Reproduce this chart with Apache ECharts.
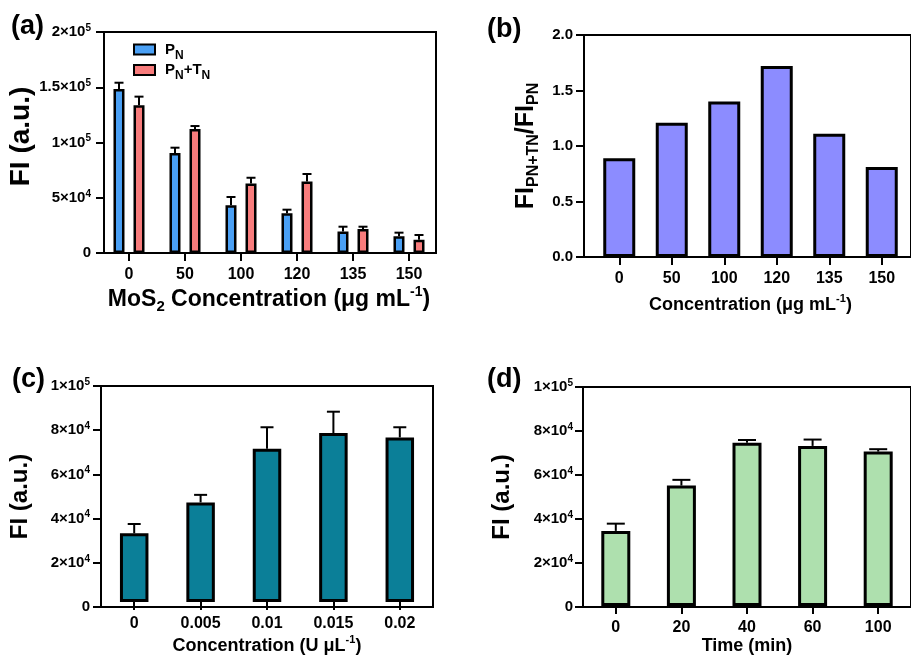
<!DOCTYPE html>
<html>
<head>
<meta charset="utf-8">
<script src="https://cdn.jsdelivr.net/npm/echarts@6/dist/echarts.min.js"></script>
<style>html,body{margin:0;padding:0;background:#fff;}#chart{width:911px;height:656px;}</style>
</head>
<body>
<div id="chart"></div>
<script>
// ---------- DATA ----------
const catsA = ['0', '50', '100', '120', '135', '150'];
const pnA = [148400, 90500, 43200, 35900, 19400, 15100];
const pnErrA = [5700, 4800, 7500, 3300, 4400, 3300];
const pntnA = [133700, 112200, 62800, 64600, 21700, 12100];
const pntnErrA = [7800, 2700, 5300, 6900, 2100, 4200];
const yTicksA = ['0', '5×10^4', '1×10^5', '1.5×10^5', '2×10^5'];

const catsB = ['0', '50', '100', '120', '135', '150'];
const ratioB = [0.89, 1.21, 1.40, 1.72, 1.11, 0.81];
const yTicksB = ['0.0', '0.5', '1.0', '1.5', '2.0'];

const catsC = ['0', '0.005', '0.01', '0.015', '0.02'];
const fiC = [31800, 46100, 71000, 78200, 76200];
const errC = [4300, 3500, 9900, 9900, 4700];
const yTicksC = ['0', '2×10^4', '4×10^4', '6×10^4', '8×10^4', '1×10^5'];

const catsD = ['0', '20', '40', '60', '100'];
const fiD = [34300, 55000, 74500, 73100, 70500];
const errD = [3300, 2600, 1300, 2900, 1100];
const yTicksD = ['0', '2×10^4', '4×10^4', '6×10^4', '8×10^4', '1×10^5'];

// ---------- STYLE HELPERS ----------
const FF = '"Liberation Sans", Arial, sans-serif';
const grids = [], xAxes = [], yAxes = [], series = [];

function tickFmt(labels) {
  return function (v, i) {
    const s = labels[i];
    if (s === undefined) return '';
    const k = s.indexOf('^');
    if (k < 0) return '{m|' + s + '}';
    return '{m|' + s.slice(0, k) + '}{e|' + s.slice(k + 1) + '}';
  };
}
const tickRich = {
  m: {fontSize: 15, fontWeight: 'bold', fontFamily: FF, color: '#000', lineHeight: 18},
  e: {fontSize: 10, fontWeight: 'bold', fontFamily: FF, color: '#000', lineHeight: 10, verticalAlign: 'top'}
};
const nameRichBase = function (size) {
  return {
    t: {fontSize: size, fontWeight: 'bold', fontFamily: FF, color: '#000', lineHeight: size + 6},
    s: {fontSize: Math.round(size * 0.65), fontWeight: 'bold', fontFamily: FF, color: '#000', lineHeight: Math.round(size * 0.65), verticalAlign: 'bottom'},
    p: {fontSize: Math.round(size * 0.62), fontWeight: 'bold', fontFamily: FF, color: '#000', lineHeight: Math.round(size * 0.62), verticalAlign: 'top'}
  };
};

function errRender(offset, cap) {
  return function (params, api) {
    const x = api.value(0), v = api.value(1), e = api.value(2);
    const p0 = api.coord([x, v]);
    const p1 = api.coord([x, v + e]);
    const cx = p0[0] + offset;
    return {
      type: 'group',
      children: [
        {type: 'line', shape: {x1: cx, y1: p0[1], x2: cx, y2: p1[1]}, style: {stroke: '#000', lineWidth: 2}},
        {type: 'line', shape: {x1: cx - cap / 2, y1: p1[1], x2: cx + cap / 2, y2: p1[1]}, style: {stroke: '#000', lineWidth: 2}}
      ]
    };
  };
}

function addPanel(p) {
  const gf = grids.length;
  grids.push({left: p.fl, top: p.ft, width: p.fw, height: p.fh, show: true, borderColor: '#000', borderWidth: 2, backgroundColor: 'transparent', containLabel: false});
  xAxes.push({gridIndex: gf, type: 'value', min: 0, max: 1, show: false});
  yAxes.push({
    gridIndex: gf, type: 'value', min: 0, max: p.ymax, interval: p.yint,
    axisLine: {show: true, lineStyle: {color: '#000', width: 2}},
    axisTick: {show: true, length: 8, lineStyle: {color: '#000', width: 2}},
    splitLine: {show: false},
    axisLabel: {margin: p.yMargin, formatter: tickFmt(p.yTicks), rich: tickRich},
    name: p.yName, nameLocation: 'middle', nameGap: p.yNameGap, nameRotate: 90,
    nameTextStyle: {padding: p.yNamePad || 0, rich: nameRichBase(p.yNameSize)}
  });
  const gd = grids.length;
  grids.push({left: p.dl, top: p.ft, width: p.dw, height: p.fh, containLabel: false});
  xAxes.push({
    gridIndex: gd, type: 'category', data: p.cats,
    axisLine: {show: false},
    axisTick: {show: true, alignWithLabel: true, length: 8, lineStyle: {color: '#000', width: 2}},
    axisLabel: {margin: 14, interval: 0, fontSize: 16, fontWeight: 'bold', fontFamily: FF, color: '#000'},
    name: p.xName, nameLocation: 'middle', nameGap: p.xNameGap,
    nameTextStyle: {rich: nameRichBase(p.xNameSize)}
  });
  yAxes.push({gridIndex: gd, type: 'value', min: 0, max: p.ymax, interval: p.yint, show: false});
  return gd;
}

// ---------- PANELS ----------
const gA = addPanel({fl: 104, ft: 32, fw: 332, fh: 221, dl: 101, dw: 336, ymax: 200000, yint: 50000, yTicks: yTicksA, yMargin: 13,
  yName: '{t|FI (a.u.)}', yNameGap: 65, yNameSize: 28, yNamePad: [0, 0, 0, 12], cats: catsA,
  xName: '{t|MoS}{s|2}{t| Concentration (μg mL}{p|-1}{t|)}', xNameGap: 32, xNameSize: 23});
const gB = addPanel({fl: 584, ft: 35, fw: 333, fh: 222, dl: 593, dw: 315, ymax: 2, yint: 0.5, yTicks: yTicksB, yMargin: 11,
  yName: '{t|FI}{s|PN+TN}{t|/FI}{s|PN}', yNameGap: 42, yNameSize: 25, cats: catsB,
  xName: '{t|Concentration (μg mL}{p|-1}{t|)}', xNameGap: 36, xNameSize: 18});
const gC = addPanel({fl: 101, ft: 386, fw: 332, fh: 221, dl: 101, dw: 332, ymax: 100000, yint: 20000, yTicks: yTicksC, yMargin: 11,
  yName: '{t|FI (a.u.)}', yNameGap: 66, yNameSize: 24, cats: catsC,
  xName: '{t|Concentration (U μL}{p|-1}{t|)}', xNameGap: 32, xNameSize: 18});
const gD = addPanel({fl: 583, ft: 387, fw: 331, fh: 220, dl: 583, dw: 331, ymax: 100000, yint: 20000, yTicks: yTicksD, yMargin: 10,
  yName: '{t|FI (a.u.)}', yNameGap: 66, yNameSize: 24, cats: catsD,
  xName: '{t|Time (min)}', xNameGap: 28, xNameSize: 18});

function bar(name, g, data, color, width, bw, gap) {
  return {name: name, type: 'bar', xAxisIndex: g, yAxisIndex: g, data: data, barWidth: width, barGap: gap || '0%',
    itemStyle: {color: color, borderColor: '#000', borderWidth: bw}, z: 2};
}
function errs(g, vals, e, offset, cap) {
  return {type: 'custom', xAxisIndex: g, yAxisIndex: g, z: 3, silent: true,
    renderItem: errRender(offset, cap), encode: {x: 0, y: 1},
    data: vals.map((v, i) => [i, v, e[i]])};
}

series.push(bar('PN', gA, pnA, '#4aa0f5', 11, 2.5, '82%'));
series.push(bar('PN+TN', gA, pntnA, '#f87c7c', 11, 2.5, '82%'));
series.push(errs(gA, pnA, pnErrA, -10, 9));
series.push(errs(gA, pntnA, pntnErrA, 10, 9));

series.push(bar('ratio', gB, ratioB, '#8c8cff', 32, 3));

series.push(bar('c', gC, fiC, '#0b7f98', 28.5, 3));
series.push(errs(gC, fiC, errC, 0, 13));

series.push(bar('d', gD, fiD, '#aee0ae', 29, 3));
series.push(errs(gD, fiD, errD, 0, 18));

const chart = echarts.init(document.getElementById('chart'), null, {renderer: 'canvas'});
const labelStyle = {fontSize: 27, fontWeight: 'bold', fontFamily: FF, color: '#000'};
chart.setOption({
  animation: false,
  backgroundColor: '#fff',
  title: [
    {text: '(a)', left: 6, top: 8, textStyle: labelStyle},
    {text: '(b)', left: 482, top: 11, textStyle: labelStyle},
    {text: '(c)', left: 7, top: 361, textStyle: labelStyle},
    {text: '(d)', left: 482, top: 361, textStyle: labelStyle}
  ],
  legend: {
    data: ['PN', 'PN+TN'], orient: 'vertical', left: 128, top: 37, itemWidth: 21, itemHeight: 10, itemGap: 1,
    icon: 'rect',
    formatter: function (n) { return n === 'PN' ? '{a|P}{b|N}' : '{a|P}{b|N}{a|+T}{b|N}'; },
    textStyle: {padding: [0, 0, 0, 5], rich: {
      a: {fontSize: 15, fontWeight: 'bold', fontFamily: FF, color: '#000', lineHeight: 24},
      b: {fontSize: 12, fontWeight: 'bold', fontFamily: FF, color: '#000', lineHeight: 12, verticalAlign: 'bottom'}
    }}
  },
  grid: grids, xAxis: xAxes, yAxis: yAxes, series: series
});
</script>
</body>
</html>
